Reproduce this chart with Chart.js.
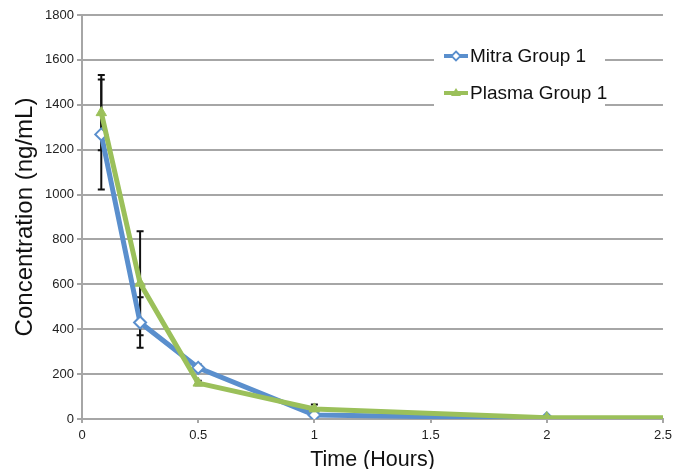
<!DOCTYPE html>
<html>
<head>
<meta charset="utf-8">
<script src="https://cdn.jsdelivr.net/npm/chart.js@4/dist/chart.umd.min.js"></script>
<style>
  html, body { margin: 0; padding: 0; background: #fff; }
  #wrap { position: relative; width: 677px; height: 469px; }
  #legend {
    position: absolute; left: 434px; top: 36px; width: 171px; height: 76px;
    background: #fff; font-family: "Liberation Sans", Arial, Helvetica, sans-serif;
    font-size: 19px; color: #111;
  }
  .item { position: absolute; left: 8px; height: 24px; display: flex; align-items: center; white-space: nowrap; }
  .item svg { width: 28px; height: 16px; margin-right: 0; flex: none; }
</style>
</head>
<body>
<div id="wrap">
  <canvas id="pkChart" width="677" height="469"></canvas>
  <div id="legend">
    <div class="item" style="top: 8px;">
      <svg viewBox="0 0 28 16"><line x1="2" y1="8" x2="26" y2="8" stroke="#5a8fcd" stroke-width="4"/><path d="M14 3.5 L18.5 8 L14 12.5 L9.5 8 Z" fill="#fff" stroke="#5a8fcd" stroke-width="1.8"/></svg>
      <span>Mitra Group 1</span>
    </div>
    <div class="item" style="top: 45px;">
      <svg viewBox="0 0 28 16"><line x1="2" y1="8" x2="26" y2="8" stroke="#9bc05a" stroke-width="4"/><path d="M14 3 L19 11 L9 11 Z" fill="#9bc05a"/></svg>
      <span>Plasma Group 1</span>
    </div>
  </div>
</div>
<script>
const mitraTime  = [0.083, 0.25, 0.5, 1, 2];
const mitraConc  = [1268, 430, 228, 18, 3];
const mitraErr   = [245, 112, 15, 8, 2];

const plasmaTime = [0.083, 0.25, 0.5, 1, 2, 4];
const plasmaConc = [1365, 605, 160, 45, 6, 4];
const plasmaErr  = [168, 232, 10, 20, 2, 0];

const yTicks = [0, 200, 400, 600, 800, 1000, 1200, 1400, 1600, 1800];
const xTicks = [0, 0.5, 1, 1.5, 2, 2.5];

const FONT = "'Liberation Sans', Arial, Helvetica, sans-serif";
const BLUE = "#5a8fcd";
const GREEN = "#9bc05a";
const GRID = "#a6a6a6";

const toPoints = (xs, ys) => xs.map((x, i) => ({ x, y: ys[i] }));

const errorBars = {
  id: "errorBars",
  beforeDatasetsDraw(chart) {
    const { ctx, chartArea } = chart;
    const xs = chart.scales.x;
    const ys = chart.scales.y;
    ctx.save();
    ctx.beginPath();
    ctx.rect(chartArea.left, chartArea.top, chartArea.right - chartArea.left, chartArea.bottom - chartArea.top);
    ctx.clip();
    ctx.strokeStyle = "#111";
    ctx.lineWidth = 2;
    chart.data.datasets.forEach((ds) => {
      ds.data.forEach((p, i) => {
        const e = ds.errors[i];
        if (!e) return;
        const px = xs.getPixelForValue(p.x);
        const top = ys.getPixelForValue(p.y + e);
        const bot = ys.getPixelForValue(p.y - e);
        ctx.beginPath();
        ctx.moveTo(px, top); ctx.lineTo(px, bot);
        ctx.moveTo(px - 3.5, top); ctx.lineTo(px + 3.5, top);
        ctx.moveTo(px - 3.5, bot); ctx.lineTo(px + 3.5, bot);
        ctx.stroke();
      });
    });
    ctx.restore();
  },
};

new Chart(document.getElementById("pkChart"), {
  type: "scatter",
  data: {
    datasets: [
      {
        label: "Plasma Group 1",
        data: toPoints(plasmaTime, plasmaConc),
        errors: plasmaErr,
        showLine: true,
        borderColor: GREEN,
        backgroundColor: GREEN,
        borderWidth: 5,
        pointStyle: "triangle",
        pointRadius: 6,
        pointBorderWidth: 1,
        pointBackgroundColor: GREEN,
        pointBorderColor: GREEN,
        order: 1,
      },
      {
        label: "Mitra Group 1",
        data: toPoints(mitraTime, mitraConc),
        errors: mitraErr,
        showLine: true,
        borderColor: BLUE,
        backgroundColor: "#fff",
        borderWidth: 5,
        pointStyle: "rectRot",
        pointRadius: 6,
        pointBorderWidth: 2,
        pointBackgroundColor: "#fff",
        pointBorderColor: BLUE,
        order: 2,
      },
    ],
  },
  options: {
    responsive: false,
    animation: false,
    events: [],
    layout: { padding: { top: 15, right: 10, bottom: 0, left: 0 } },
    plugins: {
      legend: { display: false },
      tooltip: { enabled: false },
    },
    scales: {
      x: {
        type: "linear",
        min: 0,
        max: 2.5,
        afterBuildTicks: (s) => { s.ticks = xTicks.map((v) => ({ value: v })); },
        afterFit: (s) => { s.height = 50; },
        grid: { drawOnChartArea: false, drawTicks: true, tickLength: 4, color: GRID, lineWidth: 2 },
        border: { color: GRID, width: 2 },
        ticks: {
          font: { family: FONT, size: 13 },
          color: "#222",
          padding: 5,
          maxRotation: 0,
          callback: (v) => String(v),
        },
        title: {
          display: true,
          text: "Time (Hours)",
          font: { family: FONT, size: 21.5, lineHeight: 0.85 },
          color: "#111",
          padding: { top: 0, bottom: 0 },
        },
      },
      y: {
        min: 0,
        max: 1800,
        afterBuildTicks: (s) => { s.ticks = yTicks.map((v) => ({ value: v })); },
        afterFit: (s) => { s.width = 82; },
        grid: { color: GRID, lineWidth: 2, tickLength: 5 },
        border: { color: GRID, width: 2 },
        ticks: {
          font: { family: FONT, size: 13 },
          color: "#222",
          padding: 3,
          callback: (v) => String(v),
        },
        title: {
          display: true,
          text: "Concentration (ng/mL)",
          font: { family: FONT, size: 24, lineHeight: 1.2 },
          color: "#111",
          padding: { top: 11, bottom: 0 },
        },
      },
    },
  },
  plugins: [errorBars],
});
</script>
</body>
</html>
